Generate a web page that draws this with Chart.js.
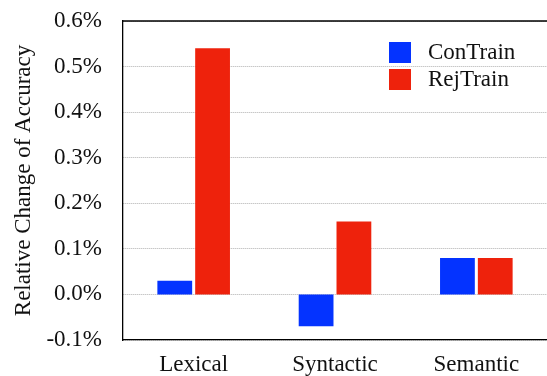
<!DOCTYPE html>
<html>
<head>
<meta charset="utf-8">
<script src="https://cdn.jsdelivr.net/npm/chart.js@4"></script>
<style>
  html, body { margin: 0; padding: 0; background: #fff; }
  #wrap { width: 547px; height: 376px; }
</style>
</head>
<body>
<div id="wrap"><canvas id="myChart1"></canvas></div>
<script>
const categories = ['Lexical', 'Syntactic', 'Semantic'];
const conTrain = [0.03, -0.07, 0.08];
const rejTrain = [0.54, 0.16, 0.08];
const seriesNames = ['ConTrain', 'RejTrain'];
const yMin = -0.1;
const yMax = 0.6;
const yStep = 0.1;

const serif = "'Liberation Serif', 'Times New Roman', serif";

// legend drawn inside the plot area, top right
const boxLegend = {
    id: 'boxLegend',
    afterDatasetsDraw(chart) {
        const ctx = chart.ctx;
        ctx.save();
        chart.data.datasets.forEach((ds, i) => {
            const y = 42 + i * 27;
            ctx.fillStyle = ds.backgroundColor;
            ctx.fillRect(389, y, 22, 21);
            ctx.fillStyle = '#111';
            ctx.font = '23px ' + serif;
            ctx.textBaseline = 'middle';
            ctx.fillText(ds.label, 428, y + 11);
        });
        ctx.restore();
    }
};

// solid frame line along the top of the plot
const topFrame = {
    id: 'topFrame',
    afterDraw(chart) {
        const a = chart.chartArea;
        const ctx = chart.ctx;
        ctx.save();
        ctx.strokeStyle = '#000';
        ctx.lineWidth = 1.3;
        ctx.beginPath();
        ctx.moveTo(a.left, a.top);
        ctx.lineTo(a.right, a.top);
        ctx.stroke();
        ctx.restore();
    }
};

const ctx = document.getElementById('myChart1').getContext('2d');
const chart1 = new Chart(ctx, {
    type: 'bar',
    data: {
        labels: categories,
        datasets: [{
            label: seriesNames[0],
            data: conTrain,
            backgroundColor: '#0433FF',
            categoryPercentage: 0.535,
            barPercentage: 0.92
        }, {
            label: seriesNames[1],
            data: rejTrain,
            backgroundColor: '#EE220C',
            categoryPercentage: 0.535,
            barPercentage: 0.92
        }]
    },
    options: {
        responsive: true,
        maintainAspectRatio: false,
        animation: false,
        layout: {
            padding: { top: 21, left: 10, right: 0, bottom: 0 }
        },
        plugins: {
            legend: { display: false },
            tooltip: { enabled: false }
        },
        scales: {
            x: {
                grid: { display: false, drawTicks: false },
                border: { display: true, color: '#000', width: 1.3 },
                ticks: {
                    color: '#111',
                    padding: 11,
                    font: { family: serif, size: 23 }
                },
                afterFit: scale => { scale.height = 36; }
            },
            y: {
                min: yMin,
                max: yMax,
                ticks: {
                    stepSize: yStep,
                    color: '#111',
                    padding: 21,
                    font: { family: serif, size: 23 },
                    callback: v => (Math.abs(v) < 1e-9 ? 0 : v).toFixed(1) + '%'
                },
                grid: {
                    color: '#b0b0b0',
                    lineWidth: 1,
                    drawTicks: false
                },
                border: { display: true, color: '#000', width: 1.3, dash: [1, 1] },
                title: {
                    display: true,
                    text: 'Relative Change of Accuracy',
                    color: '#111',
                    font: { family: serif, size: 23 },
                    padding: { top: 0, bottom: 0 }
                },
                afterFit: scale => {
                    scale.width = 113;
                    scale.paddingTop = 0;
                    scale.paddingBottom = 0;
                }
            }
        }
    },
    plugins: [boxLegend, topFrame]
});
</script>
</body>
</html>
